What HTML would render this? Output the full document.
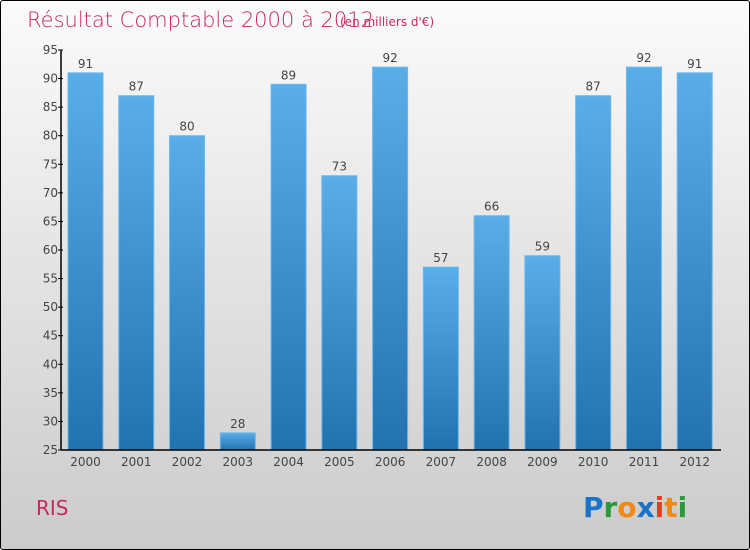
<!DOCTYPE html>
<html><head><meta charset="utf-8"><style>
html,body{margin:0;padding:0}
body{width:750px;height:550px;overflow:hidden;font-family:"DejaVu Sans","Liberation Sans",sans-serif}
#frame{position:absolute;left:0;top:0;width:748px;height:548px;border:1px solid #000;border-radius:3px;background:linear-gradient(#fbfbfb,#cbcbcb)}
</style></head><body>
<div id="frame">
<svg width="750" height="550" style="position:absolute;left:-1px;top:-1px">
<defs>
<linearGradient id="bg" x1="0" y1="0" x2="0" y2="1"><stop offset="0" stop-color="#5aaee8"/><stop offset="1" stop-color="#2272b0"/></linearGradient>
</defs>
<text x="27" y="27" font-size="21" fill="#c8285e" font-family="DejaVu Sans,sans-serif" font-weight="200">Résultat Comptable 2000 à 2012</text>
<text x="340" y="26" font-size="12" fill="#c8285e">(en milliers d'€)</text>
<g id="plot"></g>
<text x="36" y="515" font-size="20" fill="#c8285e">RIS</text>
<g font-size="28" font-weight="bold" font-family="DejaVu Sans,sans-serif">
<text x="583" y="517"><tspan fill="#1a73c8">P</tspan><tspan fill="#2a9a3a">r</tspan><tspan fill="#f08a10">o</tspan><tspan fill="#1a73c8">x</tspan><tspan fill="#e83a20">i</tspan><tspan fill="#f08a10">t</tspan><tspan fill="#2a9a3a">i</tspan></text>
</g>
</svg></div>
<script>
const categories=["2000","2001","2002","2003","2004","2005","2006","2007","2008","2009","2010","2011","2012"];
const values=[91,87,80,28,89,73,92,57,66,59,87,92,91];
const yTicks=[25,30,35,40,45,50,55,60,65,70,75,80,85,90,95];
const NS="http://www.w3.org/2000/svg";
const g=document.getElementById('plot');
const x0=61,x1=721,yTop=50,yBot=450,vMin=25,vMax=95;
const band=(x1-x0)/categories.length;
const y=v=>yBot-(v-vMin)/(vMax-vMin)*(yBot-yTop);
const xb=i=>x0+i*band;
function mk(t,a,txt){const e=document.createElementNS(NS,t);for(const k in a)e.setAttribute(k,a[k]);if(txt!=null)e.textContent=txt;g.appendChild(e);return e;}
values.forEach((v,i)=>{
 const bx=xb(i)+7,bw=35;
 const r=mk('rect',{x:bx,y:y(v),width:bw,height:yBot-y(v),fill:'url(#bg)',stroke:'#6ab8ee','stroke-width':1});
 
 
 const t=mk('text',{x:bx+bw/2,y:y(v)-5,'text-anchor':'middle','font-size':12,fill:'#444'},v);
 
 
 const c=mk('text',{x:bx+bw/2,y:yBot+16,'text-anchor':'middle','font-size':12,fill:'#444'},categories[i]);
 
 
});
yTicks.forEach(v=>{
 const l=mk('line',{x1:x0-3,x2:x0+2,y1:y(v),y2:y(v),stroke:'#000'});
 
 
 const t=mk('text',{x:x0-3,y:y(v)+4,'text-anchor':'end','font-size':12,fill:'#444'},v);
 
 
});
const ya=mk('line',{x1:x0,x2:x0,y1:yTop,y2:yBot,stroke:'#000','stroke-width':1.5});


const xa=mk('line',{x1:x0,x2:x1,y1:yBot,y2:yBot,stroke:'#000','stroke-width':1.5});


</script>
</body></html>
